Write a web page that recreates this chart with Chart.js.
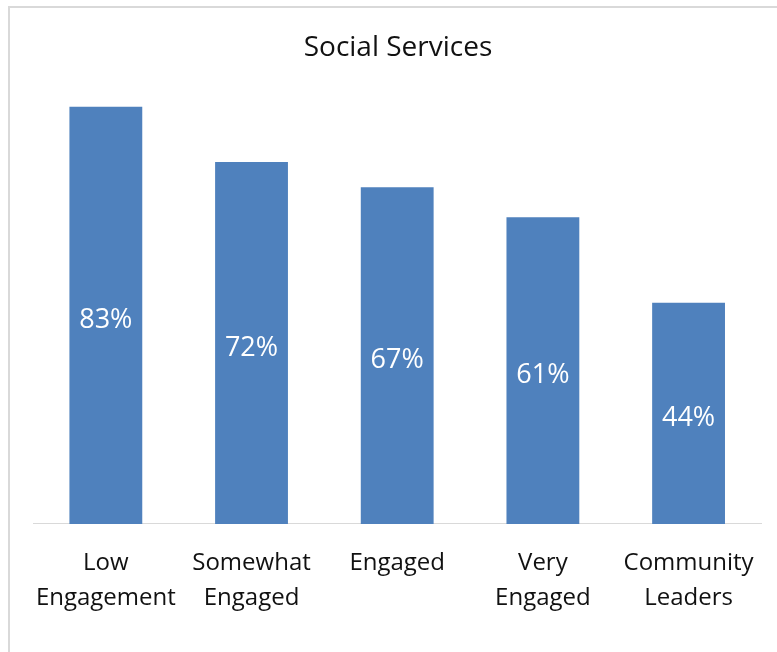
<!DOCTYPE html>
<html>
<head>
<meta charset="utf-8">
<script src="https://cdn.jsdelivr.net/npm/chart.js@4"></script>
<style>
  html, body { margin: 0; padding: 0; background: #fff; }
  #wrap { position: absolute; left: 0; top: 0; width: 777px; height: 652px; }
</style>
</head>
<body>
<div id="wrap"><canvas id="chart"></canvas></div>
<script>
// engagement groups and share of each using social services
var groups = [
  ["Low", "Engagement"],
  ["Somewhat", "Engaged"],
  ["Engaged"],
  ["Very", "Engaged"],
  ["Community", "Leaders"]
];
var shares = [83, 72, 67, 61, 44];

var fontFamily = "'Open Sans', 'Liberation Sans', sans-serif";

// light gray frame along the top and left edges
var framePlugin = {
  id: "frame",
  beforeDraw: function (chart) {
    var ctx = chart.ctx;
    ctx.save();
    ctx.strokeStyle = "#d9d9d9";
    ctx.lineWidth = 2;
    ctx.beginPath();
    ctx.moveTo(9, 652);
    ctx.lineTo(9, 7);
    ctx.lineTo(777, 7);
    ctx.stroke();
    ctx.restore();
  }
};

// percent labels centered inside each bar
var valueLabels = {
  id: "valueLabels",
  afterDatasetsDraw: function (chart) {
    var ctx = chart.ctx;
    var meta = chart.getDatasetMeta(0);
    ctx.save();
    ctx.fillStyle = "#ffffff";
    ctx.font = "27px " + fontFamily;
    ctx.textAlign = "center";
    ctx.textBaseline = "middle";
    meta.data.forEach(function (bar, i) {
      var mid = (bar.y + bar.base) / 2 + 5;
      ctx.fillText(shares[i] + "%", bar.x, mid);
    });
    ctx.restore();
  }
};

var ctx = document.getElementById("chart").getContext("2d");
var myChart = new Chart(ctx, {
  type: "bar",
  data: {
    labels: groups,
    datasets: [
      {
        label: "Social Services",
        data: shares,
        backgroundColor: "#4f81bd",
        borderWidth: 0,
        barPercentage: 0.5,
        categoryPercentage: 1
      }
    ]
  },
  options: {
    responsive: true,
    maintainAspectRatio: false,
    animation: false,
    layout: { padding: { left: 33, right: 14, top: 0, bottom: 14 } },
    plugins: {
      legend: { display: false },
      tooltip: { enabled: false },
      title: {
        display: true,
        text: "Social Services",
        color: "#111",
        font: { family: fontFamily, size: 28, weight: "normal", lineHeight: 1.2 },
        padding: { top: 31, bottom: 7 }
      }
    },
    scales: {
      y: {
        display: false,
        min: 0,
        max: 90
      },
      x: {
        grid: { display: false, drawTicks: false },
        border: { display: true, color: "#d9d9d9", width: 1 },
        ticks: {
          color: "#111",
          padding: 22,
          maxRotation: 0,
          autoSkip: false,
          font: { family: fontFamily, size: 24, lineHeight: 1.46 }
        }
      }
    }
  },
  plugins: [framePlugin, valueLabels]
});
</script>
</body>
</html>
